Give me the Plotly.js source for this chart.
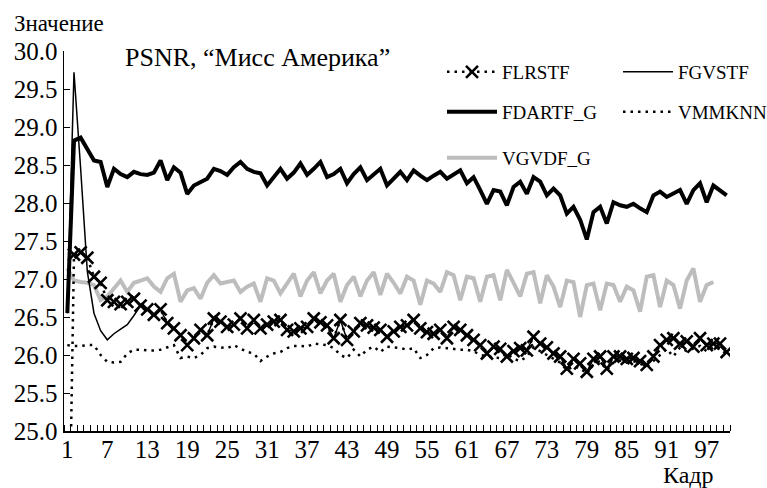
<!DOCTYPE html>
<html>
<head>
<meta charset="utf-8">
<script src="https://cdn.plot.ly/plotly-3.0.1.min.js"></script>
<style>html,body{margin:0;padding:0;background:#fff}#chart{width:767px;height:488px}</style>
</head>
<body>
<div id="chart"></div>
<script>
const frames = [1,2,3,4,5,6,7,8,9,10,11,12,13,14,15,16,17,18,19,20,21,22,23,24,25,26,27,28,29,30,31,32,33,34,35,36,37,38,39,40,41,42,43,44,45,46,47,48,49,50,51,52,53,54,55,56,57,58,59,60,61,62,63,64,65,66,67,68,69,70,71,72,73,74,75,76,77,78,79,80,81,82,83,84,85,86,87,88,89,90,91,92,93,94,95,96,97,98,99,100];

const tickVals = [1,7,13,19,25,31,37,43,49,55,61,67,73,79,85,91,97];
const tickLabels = ['1','7','13','19','25','31','37','43','49','55','61','67','73','79','85','91','97'];

const FLRSTF = [22.0,27.32,27.35,27.28,27.03,26.95,26.72,26.7,26.67,26.7,
26.74,26.65,26.6,26.53,26.6,26.42,26.35,26.26,26.13,26.22,
26.33,26.26,26.48,26.44,26.37,26.4,26.48,26.35,26.46,26.35,
26.4,26.44,26.46,26.33,26.31,26.35,26.37,26.48,26.43,26.39,
26.22,26.46,26.2,26.31,26.42,26.39,26.36,26.33,26.24,26.31,
26.37,26.39,26.46,26.35,26.3,26.28,26.33,26.22,26.37,26.33,
26.26,26.2,26.13,26.02,26.11,26.08,25.98,26.05,26.09,26.06,
26.24,26.15,26.1,26.02,25.98,25.82,25.95,25.89,25.78,25.95,
25.98,25.82,25.98,25.98,25.95,25.96,25.92,25.87,25.98,26.13,
26.2,26.22,26.15,26.18,26.11,26.22,26.13,26.15,26.15,26.04];

const FGVSTF = [26.55,29.72,28.45,27.1,26.55,26.32,26.2,26.28,26.34,26.4,
26.52,26.65,26.6,26.53,26.6,26.42,26.35,26.26,26.13,26.22,
26.33,26.26,26.48,26.44,26.37,26.4,26.48,26.35,26.46,26.35,
26.4,26.44,26.46,26.33,26.31,26.35,26.37,26.48,26.43,26.39,
26.22,26.46,26.2,26.31,26.42,26.39,26.36,26.33,26.24,26.31,
26.37,26.39,26.46,26.35,26.3,26.28,26.33,26.22,26.37,26.33,
26.26,26.2,26.13,26.02,26.11,26.08,25.98,26.05,26.09,26.06,
26.24,26.15,26.1,26.02,25.98,25.82,25.95,25.89,25.78,25.95,
25.98,25.82,25.98,25.98,25.95,25.96,25.92,25.87,25.98,26.13,
26.2,26.22,26.15,26.18,26.11,26.22,26.13,26.15,26.15,26.04];

const FDARTF_G = [26.55,28.82,28.86,28.7,28.56,28.54,28.21,28.45,28.38,28.34,
28.41,28.38,28.37,28.4,28.56,28.3,28.47,28.4,28.12,28.23,
28.27,28.32,28.45,28.42,28.37,28.47,28.54,28.45,28.41,28.39,
28.23,28.35,28.45,28.32,28.4,28.52,28.37,28.45,28.54,28.34,
28.38,28.45,28.26,28.38,28.47,28.3,28.38,28.45,28.23,28.32,
28.41,28.3,28.43,28.36,28.3,28.36,28.41,28.32,28.38,28.43,
28.26,28.34,28.17,27.99,28.17,28.15,27.97,28.21,28.28,28.12,
28.34,28.28,28.1,28.19,28.1,27.86,27.95,27.78,27.52,27.88,
27.95,27.73,28.01,27.97,27.95,27.99,27.93,27.88,28.1,28.15,
28.08,28.12,28.17,27.99,28.17,28.26,28.01,28.23,28.17,28.1];

const VMMKNN = [26.13,26.12,26.12,26.13,26.13,26.0,25.91,25.9,25.91,26.02,
26.07,26.07,26.06,26.06,26.07,26.1,26.13,25.96,25.98,25.96,
26.0,26.09,26.11,26.1,26.09,26.13,26.08,26.04,26.02,25.92,
25.98,26.02,26.04,26.09,26.12,26.12,26.11,26.15,26.14,26.13,
26.09,26.0,25.96,26.07,25.98,26.07,26.11,26.04,26.11,26.1,
26.09,26.07,26.09,25.96,26.0,26.09,26.1,26.09,26.08,26.07,
26.07,26.05,26.0,25.98,25.97,25.96,26.02,25.95,25.92,25.98,
26.1,26.05,26.0,25.95,25.9,25.8,25.85,25.83,25.75,25.88,
25.92,25.8,25.9,25.93,25.9,25.92,25.88,25.85,25.92,26.0,
26.08,25.98,26.1,26.05,26.08,26.12,26.05,26.1,26.1,26.0];

const VGVDF_G = [27.14,26.98,26.96,26.95,26.92,26.72,26.77,26.88,26.98,26.83,
26.95,26.98,27.01,26.9,26.83,27.01,27.07,26.7,26.85,26.88,
26.74,26.95,27.05,26.94,26.96,26.98,26.83,26.9,26.94,26.7,
27.01,26.98,26.81,26.95,27.07,26.77,26.98,27.09,26.81,26.98,
27.07,26.7,26.92,27.03,26.77,26.98,27.09,26.79,27.07,26.95,
26.81,27.03,26.98,26.66,26.98,26.94,26.83,27.09,27.05,26.72,
27.03,27.01,26.7,27.03,27.05,26.72,27.12,26.95,26.77,27.07,
27.09,26.68,27.05,26.9,26.63,26.98,26.96,26.5,26.92,26.94,
26.59,26.94,26.92,26.7,26.9,26.85,26.57,27.03,27.05,26.63,
26.98,26.92,26.61,26.98,27.14,26.7,26.92,26.96];

const FONT = 'Times New Roman';
const W = 767, H = 488;

const traces = [
  {x: frames.slice(0, VGVDF_G.length), y: VGVDF_G, name: 'VGVDF_G', mode: 'lines',
   line: {color: '#bdbdbd', width: 4}, legend: 'legend5'},
  {x: frames, y: VMMKNN, name: 'VMMKNN', mode: 'lines',
   line: {color: '#000', width: 2.5, dash: '2.5px,5px'}, legend: 'legend4'},
  {x: frames, y: FGVSTF, name: 'FGVSTF', mode: 'lines',
   line: {color: '#000', width: 1.5}, legend: 'legend2'},
  {x: frames, y: FLRSTF, name: 'FLRSTF', mode: 'lines+markers',
   line: {color: '#000', width: 2.5, dash: '2.5px,5px'},
   marker: {symbol: 'x-thin', size: 12, color: '#000', line: {color: '#000', width: 2.6}},
   legend: 'legend'},
  {x: frames, y: FDARTF_G, name: 'FDARTF_G', mode: 'lines',
   line: {color: '#000', width: 4}, legend: 'legend3'}
];

function leg(px, py) {
  return {x: px / W, y: 1 - py / H, xref: 'container', yref: 'container',
    xanchor: 'left', yanchor: 'middle', bgcolor: 'rgba(0,0,0,0)', borderwidth: 0,
    itemwidth: 50, font: {family: FONT, size: 19, color: '#000'}};
}

const layout = {
  width: W, height: H,
  margin: {l: 64, r: 37, t: 51, b: 57, pad: 0, autoexpand: false},
  paper_bgcolor: '#fff', plot_bgcolor: '#fff',
  font: {family: FONT, color: '#000'},
  showlegend: true,
  legend: leg(442, 72),
  legend2: leg(618, 72),
  legend3: leg(442, 112),
  legend4: leg(618, 112),
  legend5: leg(442, 158),
  xaxis: {
    range: [0.5, 100.5], tickmode: 'array', tickvals: tickVals, ticktext: tickLabels,
    ticks: '', showgrid: false, zeroline: false, tickangle: 0, automargin: false,
    ticklabelstandoff: -5,
    showline: true, linecolor: '#000', linewidth: 1.5,
    tickfont: {family: FONT, size: 25, color: '#000'},
    minor: {ticks: 'inside', tickmode: 'linear', tick0: 0.5, dtick: 1, ticklen: 6,
            tickwidth: 1, tickcolor: '#000', showgrid: false}
  },
  yaxis: {
    range: [25, 30], tickmode: 'linear', tick0: 25, dtick: 0.5, tickformat: '.1f',
    ticks: 'inside', ticklen: 6, tickwidth: 1, tickcolor: '#000', automargin: false,
    showgrid: false, zeroline: false,
    showline: true, linecolor: '#000', linewidth: 1.5,
    tickfont: {family: FONT, size: 25, color: '#000'}
  },
  annotations: [
    {text: 'Значение', xref: 'paper', yref: 'paper', x: -0.078, y: 1.073,
     xanchor: 'left', yanchor: 'middle', showarrow: false,
     font: {family: FONT, size: 23, color: '#000'}},
    {text: 'PSNR, “Мисс Америка”', xref: 'paper', yref: 'paper', x: 0.088, y: 0.982,
     xanchor: 'left', yanchor: 'middle', showarrow: false,
     font: {family: FONT, size: 26, color: '#000'}},
    {text: 'Кадр', xref: 'paper', yref: 'paper', x: 0.9384, y: -0.116,
     xanchor: 'center', yanchor: 'middle', showarrow: false,
     font: {family: FONT, size: 24, color: '#000'}}
  ]
};

Plotly.newPlot('chart', traces, layout, {displayModeBar: false, staticPlot: true});
</script>
</body>
</html>
